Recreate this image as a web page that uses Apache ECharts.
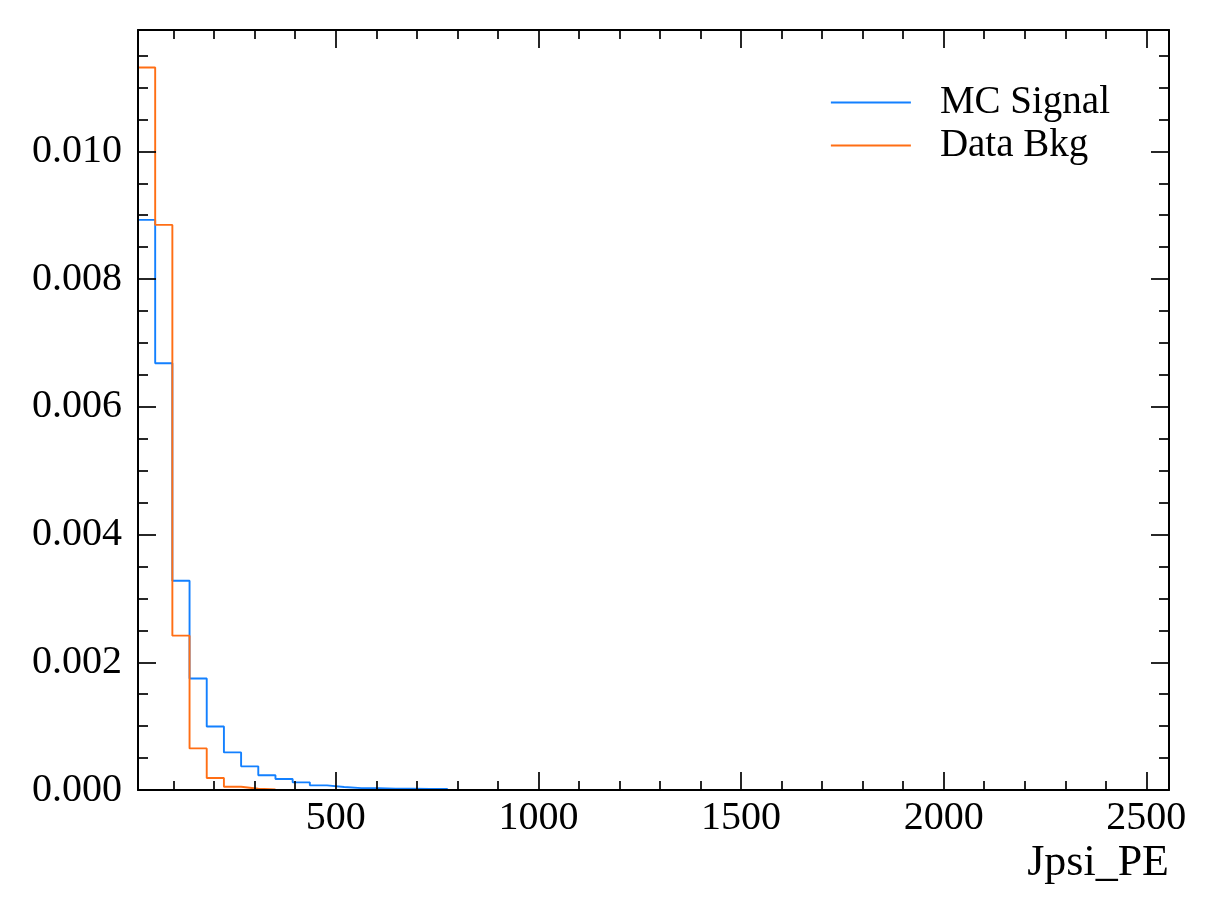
<!DOCTYPE html>
<html>
<head>
<meta charset="utf-8">
<script src="https://cdn.jsdelivr.net/npm/echarts@6/dist/echarts.min.js"></script>
<style>
  html, body { margin: 0; padding: 0; background: #fff; }
</style>
</head>
<body>
<div id="myChart" style="width: 1217px;height:918px;"></div>
<script>
// histogram binning (60 equal bins)
var xMin = 12;
var xMax = 2556;
var nBins = 60;

// bin contents (density), remaining bins are empty
var signalVals = [0.008927, 0.006683, 0.003277, 0.001745, 0.000995, 0.000589, 0.00037, 0.00023,
  0.000172, 0.00012, 0.000073, 0.000047, 0.00003, 0.00003, 0.00002, 0.00002, 0.000018, 0.000015];
var bkgVals = [0.011313, 0.008848, 0.002417, 0.000651, 0.000188, 0.00005, 0.00002, 0.000008];

var xMajor = [500, 1000, 1500, 2000, 2500];
var xMinor = [100, 200, 300, 400, 600, 700, 800, 900, 1100, 1200, 1300, 1400, 1600, 1700, 1800, 1900,
  2100, 2200, 2300, 2400];
var yMajor = [0, 0.002, 0.004, 0.006, 0.008, 0.010];
var yMinor = [0.0005, 0.001, 0.0015, 0.0025, 0.003, 0.0035, 0.0045, 0.005, 0.0055, 0.0065, 0.007,
  0.0075, 0.0085, 0.009, 0.0095, 0.0105, 0.011, 0.0115];
var yMaxVal = 0.0119;

var FONT = '"Liberation Serif", "DejaVu Serif", serif';

// step outline like matplotlib histtype='step'
function stepPoints(vals) {
  var w = (xMax - xMin) / nBins;
  var pts = [[xMin, 0]];
  for (var i = 0; i < vals.length; i++) {
    pts.push([xMin + i * w, vals[i]]);
    pts.push([xMin + (i + 1) * w, vals[i]]);
  }
  pts.push([xMin + vals.length * w, 0]);
  return pts;
}

function xAx(pos, vals, len, line, labels) {
  return {
    type: 'value', position: pos, min: xMin, max: xMax, z: 10,
    axisLine: { show: line, onZero: false, lineStyle: { color: '#000', width: 2 } },
    axisTick: { show: true, inside: true, length: len, customValues: vals, lineStyle: { color: '#000', width: 1.7 } },
    axisLabel: {
      show: labels, customValues: vals, margin: 8, color: '#000', fontSize: 40, fontFamily: FONT,
      formatter: function (v) { return String(v); }
    },
    splitLine: { show: false }
  };
}
function yAx(pos, vals, len, line, labels) {
  return {
    type: 'value', position: pos, min: 0, max: yMaxVal, z: 10,
    axisLine: { show: line, onZero: false, lineStyle: { color: '#000', width: 2 } },
    axisTick: { show: true, inside: true, length: len, customValues: vals, lineStyle: { color: '#000', width: 1.7 } },
    axisLabel: {
      show: labels, customValues: vals, margin: 16, color: '#000', fontSize: 40, fontFamily: FONT,
      formatter: function (v) { return v.toFixed(3); }
    },
    splitLine: { show: false }
  };
}

var chart = echarts.init(document.getElementById('myChart'));
var option = {
  backgroundColor: '#fff',
  animation: false,
  grid: { left: 138, right: 48, top: 30, bottom: 128, containLabel: false },
  legend: {
    orient: 'vertical', right: 102, top: 78, itemGap: 4,
    icon: 'rect', itemWidth: 80, itemHeight: 2,
    textStyle: { fontSize: 39, fontFamily: FONT, color: '#000', lineHeight: 39, padding: [0, 0, 0, 24] },
    data: ['MC Signal', 'Data Bkg']
  },
  graphic: [{
    type: 'text', x: 1169, y: 863,
    style: { text: 'Jpsi_PE', font: '44px ' + FONT, fill: '#000', textAlign: 'right', textVerticalAlign: 'middle' }
  }],
  xAxis: [
    xAx('bottom', xMajor, 18, true, true),
    xAx('bottom', xMinor, 9, false, false),
    xAx('top', xMajor, 18, true, false),
    xAx('top', xMinor, 9, false, false)
  ],
  yAxis: [
    yAx('left', yMajor, 18, true, true),
    yAx('left', yMinor, 10, false, false),
    yAx('right', yMajor, 18, true, false),
    yAx('right', yMinor, 10, false, false)
  ],
  series: [
    {
      name: 'MC Signal', type: 'line', xAxisIndex: 0, yAxisIndex: 0,
      symbol: 'none', data: stepPoints(signalVals),
      lineStyle: { color: '#1380ff', width: 1.9 }, itemStyle: { color: '#1380ff' }
    },
    {
      name: 'Data Bkg', type: 'line', xAxisIndex: 0, yAxisIndex: 0,
      symbol: 'none', data: stepPoints(bkgVals),
      lineStyle: { color: '#ff6e14', width: 1.9 }, itemStyle: { color: '#ff6e14' }
    }
  ]
};
chart.setOption(option);
</script>
</body>
</html>
